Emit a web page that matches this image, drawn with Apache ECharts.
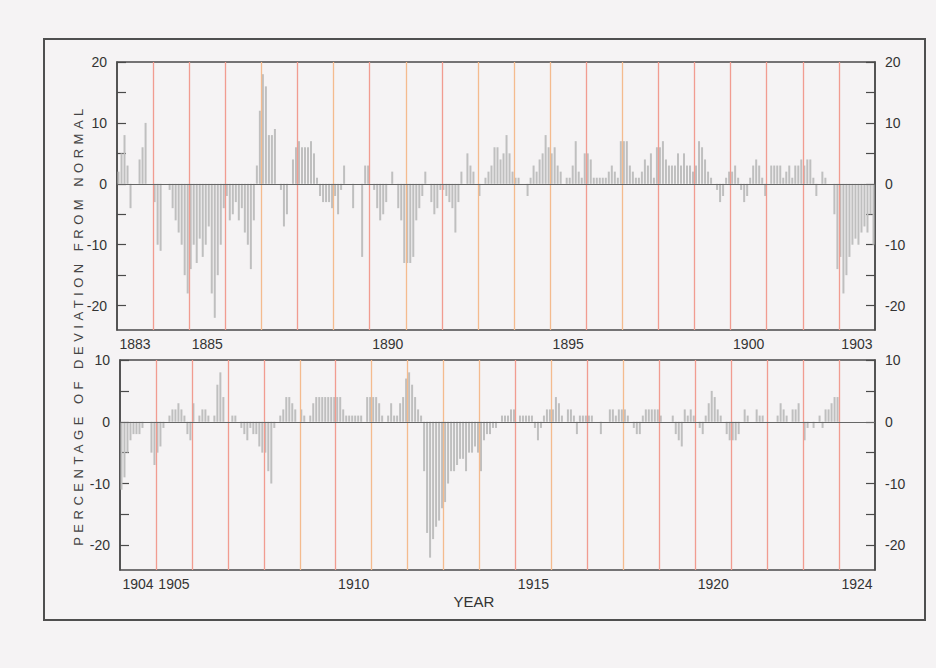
<!DOCTYPE html>
<html>
<head>
<meta charset="utf-8">
<script src="https://cdn.jsdelivr.net/npm/echarts@6/dist/echarts.min.js"></script>
<style>
html,body{margin:0;padding:0;background:#f5f3f4;}
#chart{width:936px;height:668px;}
</style>
</head>
<body>
<div id="chart"></div>
<script>
// ---------- DATA ----------
const topStartYear = 1883;
const topEndYear = 1903;
const bottomStartYear = 1904;
const bottomEndYear = 1924;

const topLabelYears = [1883, 1885, 1890, 1895, 1900, 1903];
const bottomLabelYears = [1904, 1905, 1910, 1915, 1920, 1924];

const topYLabels = [-20, -10, 0, 10, 20];
const topYTicks = [-20, -15, -10, -5, 0, 5, 10, 15, 20];
const bottomYLabels = [-20, -10, 0, 10];
const bottomYTicks = [-20, -15, -10, -5, 0, 5, 10];

const yTitle = 'PERCENTAGE OF DEVIATION FROM NORMAL';
const xTitle = 'YEAR';

// monthly deviation (%), one row per year, Jan..Dec
const topMonthly = [
  /*1883*/ 2, 5, 8, 3, -4, 0, 0, 4, 6, 10, 0, 0,
  /*1884*/ -3, -10, -11, 0, 0, -1, -4, -6, -8, -10, -15, -18,
  /*1885*/ -14, -10, -13, -9, -12, -10, -7, -18, -22, -15, -10, -4,
  /*1886*/ -2, -6, -5, -3, -6, -4, -8, -10, -14, -6, 3, 12,
  /*1887*/ 18, 16, 8, 8, 9, 0, -1, -7, -5, 0, 4, 6,
  /*1888*/ 7, 6, 6, 6, 7, 5, 1, -2, -3, -3, -3, -4,
  /*1889*/ -2, -5, -1, 3, 0, 0, -4, 0, 0, -12, 3, 3,
  /*1890*/ 0, -1, -4, -6, -5, -3, 0, 2, 0, -4, -6, -13,
  /*1891*/ -13, -13, -12, -6, -4, -2, 2, 0, -3, -5, -4, -1,
  /*1892*/ -1, -2, -3, -4, -8, -3, 2, 0, 5, 3, 2, 0,
  /*1893*/ -2, 0, 1, 2, 3, 6, 6, 4, 5, 8, 5, 2,
  /*1894*/ 1, 1, 0, 0, -2, 1, 3, 2, 4, 5, 8, 6,
  /*1895*/ 5, 6, 3, 2, 0, 1, 1, 3, 7, 2, 1, 5,
  /*1896*/ 5, 4, 1, 1, 1, 1, 1, 2, 3, 2, 1, 7,
  /*1897*/ 7, 7, 3, 2, 1, 1, 2, 4, 3, 5, 1, 6,
  /*1898*/ 6, 7, 4, 3, 3, 3, 5, 3, 5, 3, 3, 2,
  /*1899*/ 3, 7, 6, 4, 2, 1, 0, -1, -3, -2, 1, 2,
  /*1900*/ 2, 3, 1, -1, -3, -2, 1, 3, 4, 3, 1, -2,
  /*1901*/ 0, 3, 3, 3, 3, 1, 2, 3, 1, 3, 3, 4,
  /*1902*/ 3, 4, 4, 1, -2, 0, 2, 1, 0, 0, -5, -14,
  /*1903*/ -12, -18, -15, -12, -10, -9, -10, -8, -7, -8, -5, -10
];

const bottomMonthly = [
  /*1904*/ -11, -9, -5, -3, -2, -2, -2, -1, 0, 0, -5, -7,
  /*1905*/ -5, -4, -1, 0, 1, 2, 2, 3, 2, 1, -2, -3,
  /*1906*/ 3, 0, 1, 2, 2, 1, 0, 1, 6, 8, 4, 0,
  /*1907*/ 0, 1, 1, 0, -1, -2, -3, -1, -2, -2, -4, -5,
  /*1908*/ -5, -8, -10, -1, 0, 1, 2, 4, 4, 3, 2, 0,
  /*1909*/ 2, 1, 0, 1, 3, 4, 4, 4, 4, 4, 4, 4,
  /*1910*/ 4, 4, 2, 1, 1, 1, 1, 1, 1, 0, 4, 4,
  /*1911*/ 4, 4, 3, 1, 0, 1, 3, 1, 1, 3, 4, 7,
  /*1912*/ 8, 6, 4, 2, 1, -8, -18, -22, -19, -17, -16, -14,
  /*1913*/ -13, -10, -8, -8, -7, -6, -6, -8, -5, -5, -4, -5,
  /*1914*/ -8, -3, -2, -2, -1, -1, 0, 1, 1, 1, 2, 2,
  /*1915*/ 0, 1, 1, 1, 1, 1, -1, -3, -1, 1, 2, 2,
  /*1916*/ 2, 4, 3, 1, 0, 2, 2, 1, -2, 1, 1, 1,
  /*1917*/ 1, 1, 0, 0, -2, 0, 0, 2, 2, 1, 2, 2,
  /*1918*/ 2, 1, 0, -1, -2, -2, 1, 2, 2, 2, 2, 2,
  /*1919*/ 1, 0, 0, 0, 1, -2, -3, -4, 2, 1, 2, 1,
  /*1920*/ 0, -1, -2, 1, 3, 5, 4, 2, 1, 0, -2, -3,
  /*1921*/ -3, -3, -2, 0, 2, 1, 0, 0, 2, 1, 1, 0,
  /*1922*/ 0, 0, 0, 1, 3, 2, 1, 0, 2, 2, 3, 0,
  /*1923*/ -3, -1, 0, -1, 0, 1, -1, 2, 2, 3, 4, 4
  /*1924: no data */
];

// ---------- STYLE ----------
const FONT = '"Liberation Sans", Arial, Helvetica, sans-serif';
const RED = '#f19c90';
const ORANGE = '#f4bb8e';
const topOrange = [1887, 1889, 1891, 1893, 1894, 1895, 1897];
const bottomOrange = [1909, 1911, 1912, 1913, 1914, 1916, 1918];

function toPoints(values, startYear) {
  return values.map((v, i) => [startYear + Math.floor(i / 12) + ((i % 12) + 0.5) / 12, v]);
}
function yearLines(startYear, endYear, orangeList) {
  const out = [];
  for (let y = startYear + 1; y <= endYear; y++) {
    out.push({ xAxis: y, lineStyle: { color: orangeList.indexOf(y) >= 0 ? ORANGE : RED, width: 1.3, type: 'solid' } });
  }
  out.push({ yAxis: 0, lineStyle: { color: '#666', width: 1, type: 'solid' } });
  return out;
}

function xAxisCfg(gridIndex, startYear, endYear, labels) {
  return {
    type: 'value', gridIndex, min: startYear, max: endYear + 1,
    axisLine: { show: false }, axisTick: { show: false }, splitLine: { show: false },
    axisLabel: {
      customValues: labels.map(y => y + 0.5),
      formatter: v => String(Math.floor(v)),
      color: '#333', fontSize: 14, fontFamily: FONT, margin: 7
    }
  };
}
function yAxisCfg(gridIndex, position, min, max, labels, ticks) {
  return {
    type: 'value', gridIndex, position, min, max,
    axisLine: { show: true, lineStyle: { color: '#4a4a4a', width: 1.5 } },
    axisTick: { show: true, inside: true, length: 9, customValues: ticks, lineStyle: { color: '#4a4a4a', width: 1.2 } },
    splitLine: { show: false },
    axisLabel: { customValues: labels, color: '#333', fontSize: 14, fontFamily: FONT, margin: 10 }
  };
}

const chart = echarts.init(document.getElementById('chart'), null, { renderer: 'svg' });
chart.setOption({
  animation: false,
  backgroundColor: '#f5f3f4',
  grid: [
    { left: 117, top: 62, width: 758, height: 268, show: true, borderColor: '#4a4a4a', borderWidth: 1.5, backgroundColor: 'transparent' },
    { left: 120, top: 360, width: 755, height: 210, show: true, borderColor: '#4a4a4a', borderWidth: 1.5, backgroundColor: 'transparent' }
  ],
  xAxis: [
    xAxisCfg(0, topStartYear, topEndYear, topLabelYears),
    xAxisCfg(1, bottomStartYear, bottomEndYear, bottomLabelYears)
  ],
  yAxis: [
    yAxisCfg(0, 'left', -24, 20, topYLabels, topYTicks),
    yAxisCfg(0, 'right', -24, 20, topYLabels, topYTicks),
    yAxisCfg(1, 'left', -24, 10, bottomYLabels, bottomYTicks),
    yAxisCfg(1, 'right', -24, 10, bottomYLabels, bottomYTicks)
  ],
  series: [
    {
      type: 'bar', xAxisIndex: 0, yAxisIndex: 0, barWidth: 2, silent: true,
      itemStyle: { color: '#bfbfbf' },
      data: toPoints(topMonthly, topStartYear),
      markLine: { silent: true, symbol: ['none', 'none'], label: { show: false }, data: yearLines(topStartYear, topEndYear, topOrange) }
    },
    {
      type: 'bar', xAxisIndex: 1, yAxisIndex: 2, barWidth: 2, silent: true,
      itemStyle: { color: '#bfbfbf' },
      data: toPoints(bottomMonthly, bottomStartYear),
      markLine: { silent: true, symbol: ['none', 'none'], label: { show: false }, data: yearLines(bottomStartYear, bottomEndYear, bottomOrange) }
    }
  ],
  graphic: [
    { type: 'rect', silent: true, shape: { x: 44, y: 39, width: 881, height: 581 }, style: { fill: 'none', stroke: '#4f4f4f', lineWidth: 2 } },
    { type: 'text', silent: true, x: 78, y: 325, rotation: Math.PI / 2,
      style: { text: yTitle, fill: '#444', fontSize: 13, fontFamily: FONT, align: 'center', verticalAlign: 'middle' } },
    { type: 'text', silent: true, x: 474, y: 601,
      style: { text: xTitle, fill: '#333', fontSize: 15, fontFamily: FONT, align: 'center', verticalAlign: 'middle' } }
  ]
});

// widen the letter spacing of the vertical axis title, as in the original
document.querySelectorAll('#chart text').forEach(t => {
  if (t.textContent === yTitle) t.style.letterSpacing = '4.5px';
});
</script>
</body>
</html>
